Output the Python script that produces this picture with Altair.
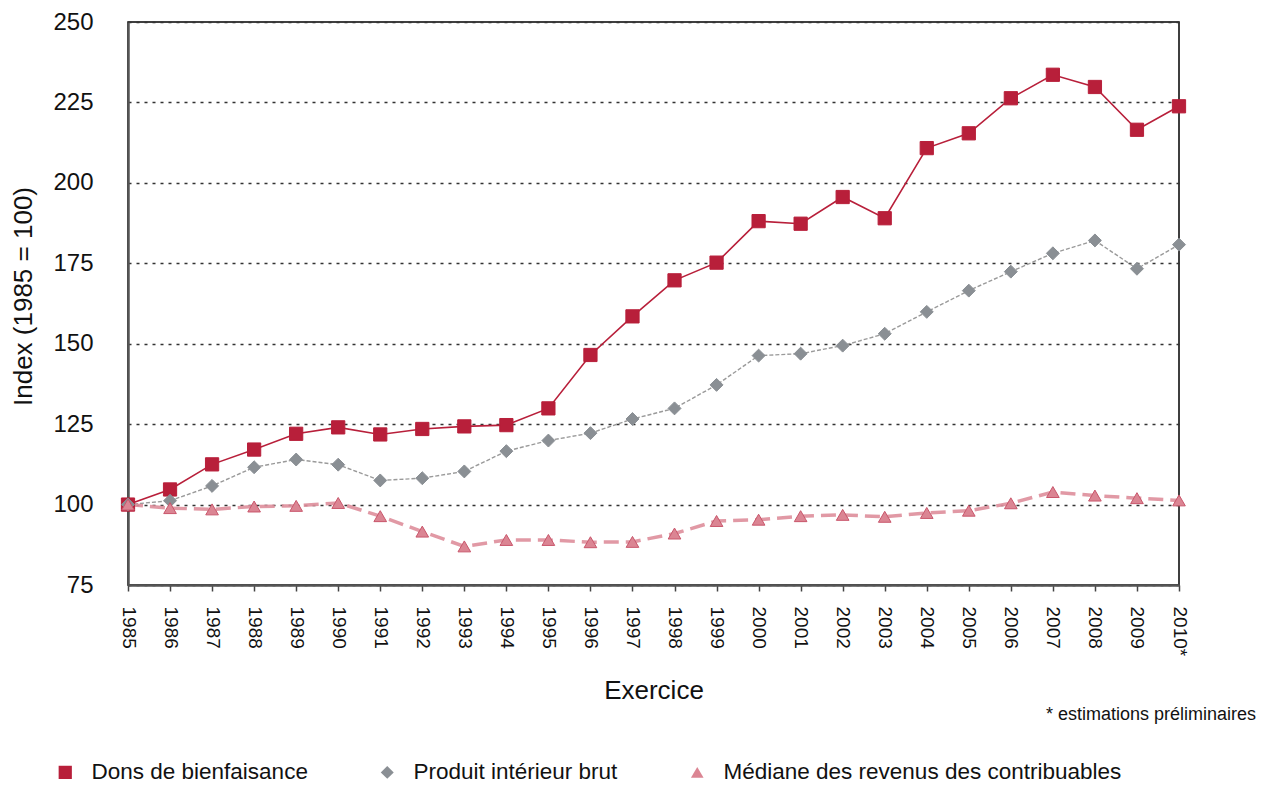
import altair as alt
import pandas as pd

years = list(range(1985, 2011))
series_names = ["Dons de bienfaisance", "Produit intérieur brut", "Médiane des revenus des contribuables"]

dons = [100, 104.7, 112.5, 117.1, 122.0, 124.0, 121.8, 123.5, 124.3, 124.7,
        129.9, 146.5, 158.5, 169.7, 175.2, 188.1, 187.3, 195.6, 189.0, 210.8,
        215.4, 226.3, 233.6, 229.8, 216.5, 223.8]
pib = [100, 101.2, 105.8, 111.6, 114.0, 112.4, 107.5, 108.2, 110.3, 116.6,
       119.9, 122.2, 126.6, 129.9, 137.2, 146.3, 146.9, 149.4, 153.1, 159.9,
       166.5, 172.4, 178.1, 182.1, 173.3, 180.8]
mediane = [100, 98.9, 98.5, 99.4, 99.6, 100.5, 96.4, 91.6, 87.0, 89.0,
           89.0, 88.3, 88.4, 91.0, 94.9, 95.3, 96.4, 96.8, 96.2, 97.4,
           98.1, 100.4, 103.9, 102.8, 102.0, 101.3]
y_ticks = [75, 100, 125, 150, 175, 200, 225, 250]
note_text = ["* estimations préliminaires"]

rows = []
for name, vals in zip(series_names, [dons, pib, mediane]):
    for yr, v in zip(years, vals):
        rows.append({"Exercice": yr, "Index": v, "Serie": name})
df = pd.DataFrame(rows)

RED = "#B81F3A"
GREY = "#8A8F94"
PINK = "#DB8593"

FONT = "Liberation Sans"

x_enc = alt.X(
    "Exercice:Q",
    scale=alt.Scale(domain=[1985, 2010], nice=False, zero=False),
    axis=alt.Axis(
        values=years, format="d", labelAngle=90, labelAlign="left",
        labelBaseline="middle", labelFontSize=19, labelPadding=15,
        labelExpr="datum.value == 2010 ? '2010*' : datum.label",
        tickSize=6, tickColor="#444", tickWidth=1.5, grid=False,
        domainColor="#555", domainWidth=2.5, labelColor="#111",
        title="Exercice", titleFontSize=26, titleFontWeight="normal",
        titleColor="#111", titleY=113, titleBaseline="alphabetic",
        labelFlush=False, labelOverlap=False,
    ),
)
y_enc = alt.Y(
    "Index:Q",
    scale=alt.Scale(domain=[75, 250], nice=False, zero=False),
    axis=alt.Axis(
        values=y_ticks, ticks=False, labelFontSize=24, labelPadding=35,
        labelColor="#111", domainColor="#555", domainWidth=2.5,
        grid=True, gridColor="#333", gridDash=[3, 5], gridWidth=1.5,
        title="Index (1985 = 100)", titleFontSize=26, titleFontWeight="normal",
        titleColor="#111", titleAngle=-90, titleX=-105, titleY=274,
        titleAlign="center", titleBaseline="middle",
        labelFlush=False,
    ),
)

base = alt.Chart(df)

line_red = base.transform_filter(alt.datum.Serie == series_names[0]).mark_line(
    color=RED, strokeWidth=1.6
).encode(x=x_enc, y=y_enc)
line_grey = base.transform_filter(alt.datum.Serie == series_names[1]).mark_line(
    color="#9A9A9A", strokeWidth=1.4, strokeDash=[4, 2]
).encode(x=x_enc, y=y_enc)
line_pink = base.transform_filter(alt.datum.Serie == series_names[2]).mark_line(
    color="#DE8E9B", strokeWidth=3.5, strokeDash=[15, 7], opacity=0.9
).encode(x=x_enc, y=y_enc)

points = base.mark_point(filled=True, opacity=1, strokeWidth=1).encode(
    x=x_enc,
    y=y_enc,
    color=alt.Color(
        "Serie:N",
        scale=alt.Scale(domain=series_names, range=[RED, GREY, PINK]),
        legend=alt.Legend(
            orient="none", legendX=-74, legendY=739, direction="horizontal",
            columns=3, title=None, labelFontSize=22.5, labelColor="#111",
            symbolSize=170, labelOffset=15, columnPadding=68,
            symbolStrokeWidth=0, labelLimit=600,
        ),
    ),
    shape=alt.Shape(
        "Serie:N",
        scale=alt.Scale(domain=series_names, range=["square", "diamond", "triangle-up"]),
    ),
    size=alt.Size(
        "Serie:N",
        scale=alt.Scale(domain=series_names, range=[175, 160, 210]),
        legend=None,
    ),
    stroke=alt.Stroke(
        "Serie:N",
        scale=alt.Scale(domain=series_names, range=[RED, GREY, "#C9566B"]),
        legend=None,
    ),
)

note = alt.Chart(pd.DataFrame({"t": note_text})).mark_text(
    align="right", baseline="alphabetic", fontSize=18, color="#111", font=FONT
).encode(text="t:N", x=alt.value(1128), y=alt.value(698))

chart = alt.layer(line_grey, line_pink, line_red, points, note).properties(
    width=1051,
    height=563,
    padding={"left": 120, "top": 14, "right": 80, "bottom": 202},
    autosize=alt.AutoSizeParams(type="none"),
).configure(
    font=FONT,
).configure_view(
    stroke="#000", strokeWidth=1.5,
).configure_axis(
    labelFont=FONT, titleFont=FONT,
).configure_legend(
    labelFont=FONT,
)

chart.save("out.html", embed_options={"renderer": "svg", "actions": False})
